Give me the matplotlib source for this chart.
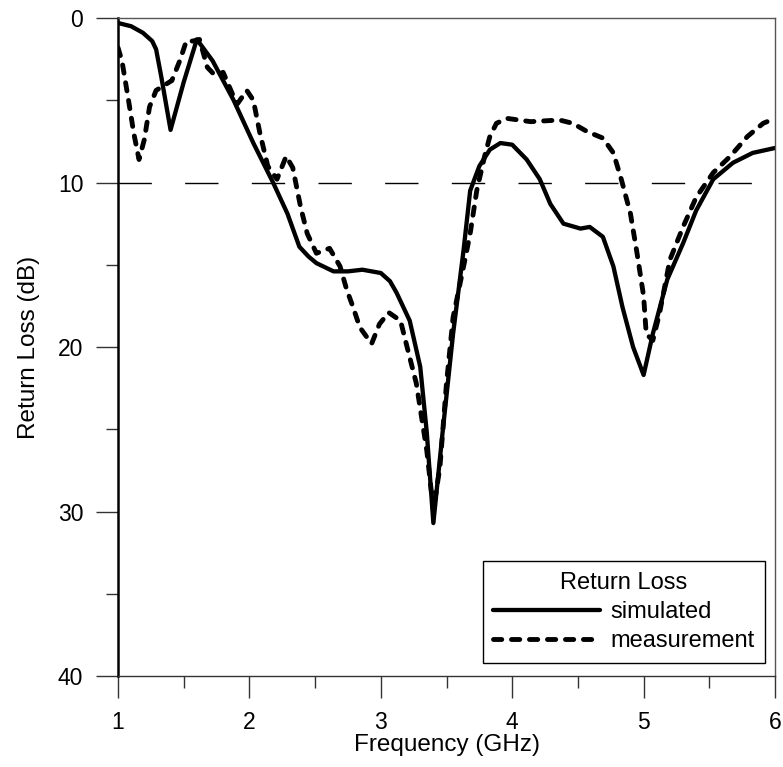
import matplotlib
matplotlib.use("Agg")
import matplotlib.pyplot as plt

plt.rcParams['font.family'] = ['Liberation Sans', 'DejaVu Sans']

# simulated return loss (dB) vs frequency (GHz)
freq_sim = [1.00, 1.10, 1.19, 1.26, 1.29, 1.33, 1.40, 1.50, 1.60, 1.72, 1.88, 2.03, 2.18,
            2.29, 2.38, 2.45, 2.51, 2.64, 2.75, 2.86, 3.00, 3.07, 3.12, 3.22, 3.30, 3.35,
            3.40, 3.47, 3.55, 3.63, 3.68, 3.75, 3.83, 3.91, 4.00, 4.11, 4.21, 4.29,
            4.39, 4.52, 4.59, 4.69, 4.77, 4.84, 4.92, 5.00, 5.07, 5.18, 5.30, 5.40,
            5.53, 5.68, 5.83, 6.00]
rl_sim = [0.3, 0.5, 0.9, 1.4, 1.9, 3.6, 6.8, 3.9, 1.3, 2.6, 5.0, 7.6, 10.0,
          11.9, 13.9, 14.5, 14.9, 15.4, 15.4, 15.3, 15.5, 16.0, 16.7, 18.4, 21.2, 25.2,
          30.7, 25.2, 19.2, 14.1, 10.5, 9.0, 8.0, 7.6, 7.7, 8.6, 9.8, 11.3,
          12.5, 12.8, 12.7, 13.3, 15.1, 17.6, 20.0, 21.7, 19.2, 15.9, 13.7, 11.7,
          9.8, 8.8, 8.2, 7.9]

# measured return loss
freq_meas = [1.00, 1.03, 1.08, 1.12, 1.16, 1.20, 1.24, 1.29, 1.37, 1.41, 1.47, 1.52,
             1.57, 1.62, 1.68, 1.74, 1.80, 1.87, 1.91, 1.98, 2.03, 2.08, 2.14, 2.21,
             2.28, 2.33, 2.39, 2.44, 2.51, 2.61, 2.69, 2.74, 2.79, 2.84, 2.93, 2.99,
             3.06, 3.15, 3.20, 3.27, 3.35, 3.40, 3.45, 3.50, 3.55, 3.63, 3.68, 3.73,
             3.79, 3.83, 3.88, 3.96, 4.14, 4.36, 4.46, 4.57, 4.69, 4.77, 4.83, 4.90,
             4.95, 5.00, 5.02, 5.07, 5.12, 5.20, 5.30, 5.40, 5.53, 5.66, 5.79, 5.91,
             6.00]
rl_meas = [1.8, 2.6, 5.0, 7.0, 8.6, 7.4, 5.4, 4.4, 4.0, 3.8, 2.6, 1.4,
           1.4, 1.3, 3.0, 3.5, 3.3, 4.6, 5.2, 4.4, 5.0, 7.0, 9.0, 9.8,
           8.4, 9.1, 11.5, 13.1, 14.3, 14.0, 15.1, 16.5, 17.6, 18.8, 19.8, 18.6,
           17.9, 18.4, 20.0, 22.2, 26.3, 29.9, 27.3, 22.2, 18.2, 15.1, 13.1, 10.5,
           8.4, 7.2, 6.4, 6.1, 6.3, 6.2, 6.4, 6.9, 7.3, 8.2, 9.8, 11.9,
           14.3, 16.9, 19.2, 19.6, 18.0, 14.7, 12.7, 10.9, 9.4, 8.4, 7.2, 6.4,
           6.1]

threshold = 10

fig = plt.figure(figsize=(7.83, 7.67), dpi=100)
ax = fig.add_axes([0.1507, 0.1186, 0.8391, 0.8579])

ax.axhline(threshold, color="black", lw=1, linestyle=(0, (24, 24)))

ax.plot(freq_sim, rl_sim, color="black", lw=3.1, solid_joinstyle="round",
        solid_capstyle="round", label="simulated")
ax.plot(freq_meas, rl_meas, color="black", lw=3.5, linestyle=(0, (1.7, 2.0)),
        dash_capstyle="round", label="measurement")

ax.set_xlim(1, 6)
ax.set_ylim(40, 0)
ax.set_xticks([1, 2, 3, 4, 5, 6])
ax.set_xticks([1.5, 2.5, 3.5, 4.5, 5.5], minor=True)
ax.set_yticks([0, 10, 20, 30, 40])
ax.set_yticks([5, 15, 25, 35], minor=True)

ax.tick_params(which="major", length=16, width=1, color="#333333",
               labelsize=16.5, pad=9)
ax.tick_params(which="minor", length=8.5, width=1, color="#333333")

for side in ["top", "right"]:
    ax.spines[side].set_color("#555555")
    ax.spines[side].set_linewidth(1)
ax.spines["bottom"].set_color("#333333")
ax.spines["bottom"].set_linewidth(1)
ax.spines["left"].set_color("black")
ax.spines["left"].set_linewidth(1.8)

ax.set_xlabel("Frequency (GHz)", fontsize=17.5, labelpad=0)
ax.set_ylabel("Return Loss (dB)", fontsize=17.5, labelpad=13)

leg = ax.legend(title="Return Loss", loc="lower right",
                bbox_to_anchor=(0.985, 0.02), borderaxespad=0,
                fontsize=17, title_fontsize=17, handlelength=4.5,
                handletextpad=0.45, fancybox=False, framealpha=1,
                edgecolor="black", borderpad=0.45, labelspacing=0.3)
leg.get_frame().set_linewidth(1)

fig.savefig("out.png", dpi=100)
